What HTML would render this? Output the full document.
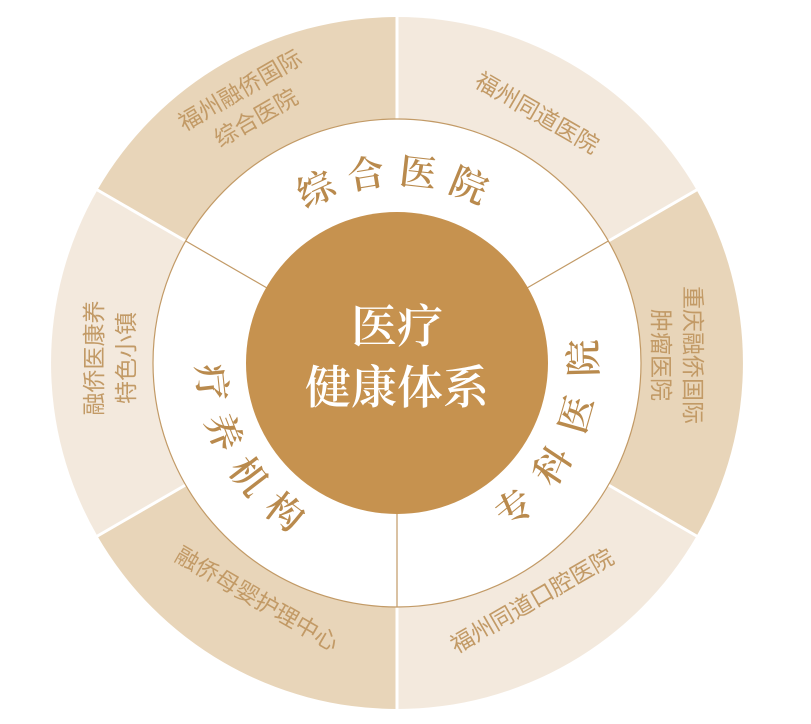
<!DOCTYPE html>
<html><head><meta charset="utf-8"><style>
html,body{margin:0;padding:0;background:#fff;width:811px;height:724px;overflow:hidden}
svg{display:block}
.o{font-family:"Liberation Sans","Noto Sans CJK SC",sans-serif;font-size:23px;fill:#c29a66;text-anchor:middle;dominant-baseline:central}
.m{font-family:"Liberation Serif","Noto Serif CJK SC",serif;font-size:37px;fill:#b98a4d;text-anchor:middle;dominant-baseline:central;font-weight:600}
.c{font-family:"Liberation Serif","Noto Serif CJK SC",serif;font-size:46px;fill:#fff;text-anchor:middle;dominant-baseline:central;font-weight:600}
</style></head><body>
<svg width="811" height="724" viewBox="0 0 811 724">
<g transform="translate(397,363)">
<path d="M0,0 L0,-346 A346,346 0 0 1 299.6,-173 Z" fill="#f3e9dd"/>
<path d="M0,0 L299.6,-173 A346,346 0 0 1 299.6,173 Z" fill="#e8d5b9"/>
<path d="M0,0 L299.6,173 A346,346 0 0 1 0,346 Z" fill="#f3e9dd"/>
<path d="M0,0 L0,346 A346,346 0 0 1 -299.6,173 Z" fill="#e8d5b9"/>
<path d="M0,0 L-299.6,173 A346,346 0 0 1 -299.6,-173 Z" fill="#f3e9dd"/>
<path d="M0,0 L-299.6,-173 A346,346 0 0 1 0,-346 Z" fill="#e8d5b9"/>
<g stroke="#fff" stroke-width="3">
<line x1="0" y1="-240" x2="0" y2="-350"/><line x1="0" y1="240" x2="0" y2="350"/>
<line x1="208" y1="-120" x2="303" y2="-175"/><line x1="208" y1="120" x2="303" y2="175"/>
<line x1="-208" y1="-120" x2="-303" y2="-175"/><line x1="-208" y1="120" x2="-303" y2="175"/>
</g>
<circle r="244" fill="#fff" stroke="#c29a66" stroke-width="1.2"/>
<g stroke="#c29a66" stroke-width="1.2">
<line x1="0" y1="150" x2="0" y2="244"/>
<line x1="130" y1="-75" x2="211.3" y2="-122"/>
<line x1="-130" y1="-75" x2="-211.3" y2="-122"/>
</g>
<circle r="151" fill="#c6924f"/>
</g>
<text class="c" x="397" y="327">医疗</text>
<text class="c" x="397" y="388">健康体系</text>
<g transform="translate(397,363)">
<text class="m" transform="rotate(-115) translate(190,0) rotate(90)">综</text>
<text class="m" transform="rotate(-99.3) translate(190,0) rotate(90)">合</text>
<text class="m" transform="rotate(-83.7) translate(190,0) rotate(90)">医</text>
<text class="m" transform="rotate(-68) translate(190,0) rotate(90)">院</text>
<text class="m" transform="rotate(51) translate(188,0) rotate(-90)">专</text>
<text class="m" transform="rotate(33.5) translate(188,0) rotate(-90)">科</text>
<text class="m" transform="rotate(16) translate(188,0) rotate(-90)">医</text>
<text class="m" transform="rotate(-1.5) translate(188,0) rotate(-90)">院</text>
<text class="m" transform="rotate(174) translate(188,0) rotate(-90)">疗</text>
<text class="m" transform="rotate(158.3) translate(188,0) rotate(-90)">养</text>
<text class="m" transform="rotate(142.6) translate(188,0) rotate(-90)">机</text>
<text class="m" transform="rotate(127) translate(188,0) rotate(-90)">构</text>
</g>
<g transform="translate(248,104) rotate(-30)">
<text class="o" x="0" y="-16">福州融侨国际</text>
<text class="o" x="0" y="16">综合医院</text>
</g>
<g transform="translate(537,113) rotate(30)"><text class="o">福州同道医院</text></g>
<g transform="translate(677,355) rotate(90)">
<text class="o" x="0" y="-16">重庆融侨国际</text>
<text class="o" x="0" y="16">肿瘤医院</text>
</g>
<g transform="translate(110,358) rotate(-90)">
<text class="o" x="0" y="-16">融侨医康养</text>
<text class="o" x="0" y="16">特色小镇</text>
</g>
<g transform="translate(257,599) rotate(30)"><text class="o">融侨母婴护理中心</text></g>
<g transform="translate(532,601) rotate(-30)"><text class="o">福州同道口腔医院</text></g>
</svg>
</body></html>
